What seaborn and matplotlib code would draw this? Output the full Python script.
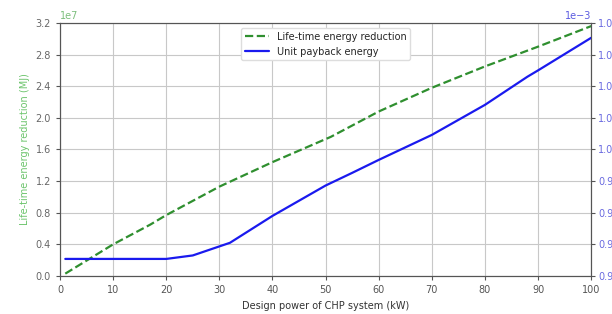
import matplotlib
matplotlib.use("Agg")
import matplotlib.pyplot as plt
import seaborn as sns
import pandas as pd
from matplotlib.ticker import MultipleLocator

# values
power_kw = [1, 10, 17, 20, 30, 40, 51, 60, 70, 80, 90, 100]
energy_reduction = [0.03e7, 0.40e7, 0.65e7, 0.77e7, 1.13e7, 1.44e7, 1.76e7,
                    2.08e7, 2.38e7, 2.65e7, 2.90e7, 3.16e7]

payback_kw = [1, 10, 20, 25, 32, 40, 50, 55, 60, 70, 80, 88, 90, 100]
payback_energy = [0.9654e-3, 0.9654e-3, 0.9654e-3, 0.9665e-3, 0.9705e-3,
                  0.9790e-3, 0.9886e-3, 0.9926e-3, 0.9967e-3, 1.0046e-3,
                  1.0141e-3, 1.0230e-3, 1.0250e-3, 1.0353e-3]

green = "#2f8f2f"
blue = "#1a1aee"

sns.set_style("whitegrid", {"grid.color": "#c8c8c8", "axes.edgecolor": "#555555",
                            "xtick.bottom": True, "ytick.left": True})
plt.rcParams["font.family"] = ["DejaVu Sans"]
plt.rcParams["font.size"] = 7

df_green = pd.DataFrame({"power": power_kw, "value": energy_reduction})
df_blue = pd.DataFrame({"power": payback_kw, "value": payback_energy})

fig, ax = plt.subplots(figsize=(6.12, 3.14), dpi=100)
ax2 = ax.twinx()

sns.lineplot(data=df_green, x="power", y="value", ax=ax, color=green,
             linestyle="--", linewidth=1.6, label="Life-time energy reduction", legend=False)
sns.lineplot(data=df_blue, x="power", y="value", ax=ax2, color=blue,
             linewidth=1.6, label="Unit payback energy", legend=False)

ax.set_xlim(0, 100)
ax.set_ylim(0, 3.2e7)
ax.xaxis.set_major_locator(MultipleLocator(10))
ax.yaxis.set_major_locator(MultipleLocator(0.4e7))
ax2.set_ylim(0.96e-3, 1.04e-3)
ax2.yaxis.set_major_locator(MultipleLocator(0.01e-3))
ax2.ticklabel_format(axis="y", style="sci", scilimits=(-3, -3), useOffset=False)
ax2.grid(False)

ax.set_xlabel("Design power of CHP system (kW)", fontsize=7, color="#333333")
ax.set_ylabel("Life-time energy reduction (MJ)", fontsize=7, color="#6cc46c")
ax2.set_ylabel("")

ax.tick_params(axis="both", labelsize=7, colors="#555555", length=3)
ax.tick_params(axis="y", labelcolor="#666666")
ax2.tick_params(axis="y", labelsize=7, colors="#555555", labelcolor="#6a6ae0",
                length=3, pad=2)
ax.yaxis.get_offset_text().set_color("#7cbf7c")
ax.yaxis.get_offset_text().set_fontsize(7)
ax2.yaxis.get_offset_text().set_color("#5a5ae0")
ax2.yaxis.get_offset_text().set_fontsize(7)

h1, l1 = ax.get_legend_handles_labels()
h2, l2 = ax2.get_legend_handles_labels()
leg = ax2.legend(h1 + h2, l1 + l2, loc="upper center", fontsize=7, frameon=True,
                 edgecolor="#dddddd", framealpha=1.0, handlelength=2.5)

fig.subplots_adjust(left=0.098, right=0.966, top=0.927, bottom=0.121)
fig.savefig("out.png", dpi=100)
